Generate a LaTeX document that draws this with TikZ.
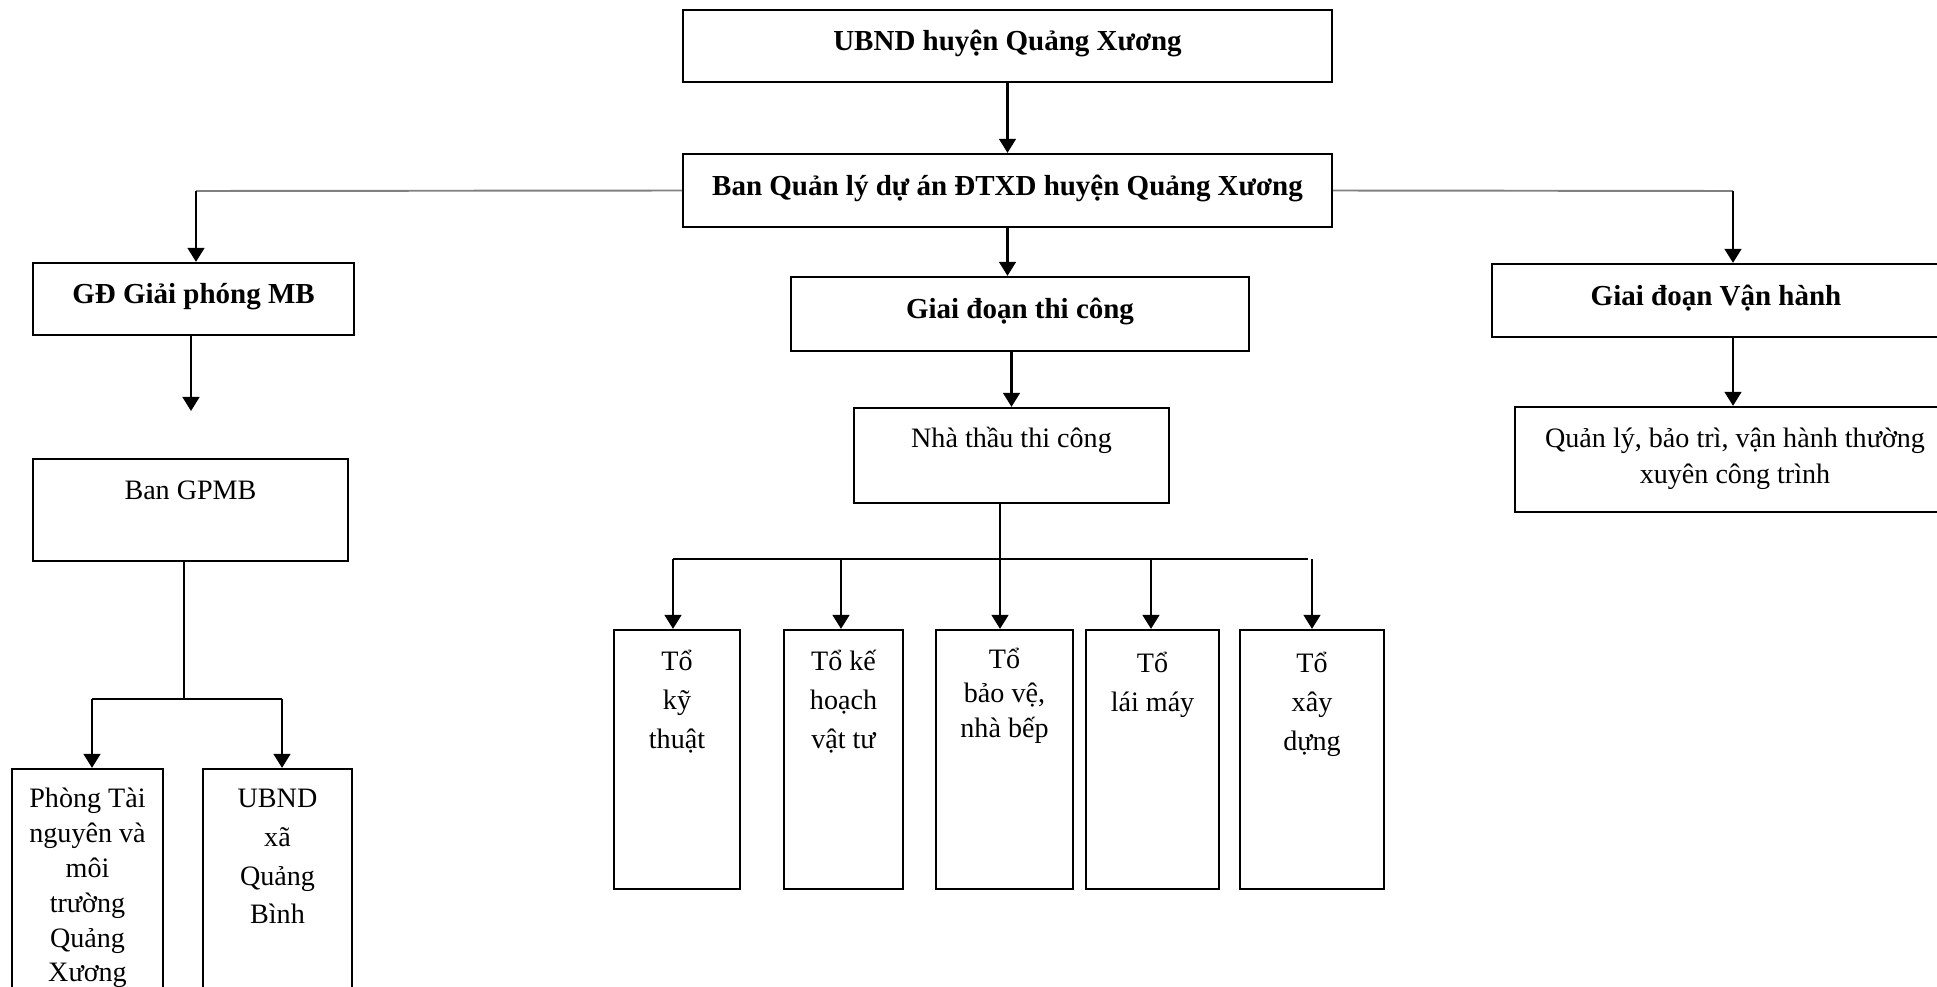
\documentclass[tikz,border=0pt]{standalone}
\usepackage{fontspec}
\setmainfont{Liberation Serif}
\usetikzlibrary{arrows.meta}

\begin{document}
\begin{tikzpicture}[x=0.02cm, y=-0.02cm,
  box/.style={draw, line width=1.3pt, inner sep=0pt},
  head/.style={font=\fontsize{16.5}{20}\selectfont\bfseries, text depth=6pt},
  txt/.style={anchor=north, inner sep=0pt, align=center, font=\fontsize{16}{22}\selectfont},
  line/.style={line width=1.5pt},
  arr/.style={line width=1.5pt, -{Triangle[width=9.5pt,length=8pt]}},
  greyline/.style={draw=gray, line width=1.1pt}]
\clip (0,0) rectangle (1937,987);

% top levels
\node[box, head, minimum width=12.98cm, minimum height=1.44cm] (ubnd) at (1007.5,46) {UBND huyện Quảng Xương};
\node[box, head, minimum width=12.98cm, minimum height=1.46cm] (banql) at (1007.5,190.5) {Ban Quản lý dự án ĐTXD huyện Quảng Xương};
\draw[arr] (ubnd.south) -- (banql.north);

% three stages
\node[box, head, minimum width=6.42cm, minimum height=1.44cm] (gd) at (193.5,299) {GĐ Giải phóng MB};
\node[box, head, minimum width=9.16cm, minimum height=1.48cm] (gtc) at (1020,314) {Giai đoạn thi công};
\node[box, head, minimum width=8.96cm, minimum height=1.46cm] (gvh) at (1716,300.5) {Giai đoạn Vận hành};

\coordinate (jl) at (196,191);
\coordinate (jr) at (1733,191);
\draw[greyline] (banql.west) -- (jl);
\draw[greyline] (banql.east) -- (jr);
\draw[arr] (jl) -- (jl |- gd.north);
\draw[arr] (jr) -- (jr |- gvh.north);
\draw[arr] (banql.south) -- (banql.south |- gtc.north);

% left branch
\coordinate (gdend) at (191,411);
\draw[arr] (gdend |- gd.south) -- (gdend);
\node[box, minimum width=6.3cm, minimum height=2.04cm] (bangpmb) at (190.5,510) {};
\node[txt] (bangpmb-t) at (190.5,481) {Ban GPMB};

\node[box, minimum width=3.02cm, minimum height=4.82cm] (phong) at (87.5,889.5) {};
\node[txt, font=\fontsize{16}{19.8}\selectfont] (phong-t) at (87.5,788) {Phòng Tài\\nguyên và\\môi\\trường\\Quảng\\Xương};
\node[box, minimum width=2.98cm, minimum height=4.82cm] (ubndxa) at (277.5,889.5) {};
\node[txt] (ubndxa-t) at (277.5,789) {UBND\\xã\\Quảng\\Bình};

\coordinate (sl) at (184,699);
\coordinate (sa) at (92,699);
\coordinate (sb) at (282,699);
\draw[line] (bangpmb.south -| sl) -- (sl);
\draw[line] (sa) -- (sb);
\draw[arr] (sa) -- (sa |- phong.north);
\draw[arr] (sb) -- (sb |- ubndxa.north);

% middle branch
\node[box, minimum width=6.3cm, minimum height=1.9cm] (nhathau) at (1011.5,455.5) {};
\node[txt] (nhathau-t) at (1011.5,427) {Nhà thầu thi công};
\draw[arr] (gtc.south -| nhathau.north) -- (nhathau.north);

\node[box, minimum width=2.52cm, minimum height=5.18cm] (tkt) at (677,759.5) {};
\node[box, minimum width=2.38cm, minimum height=5.18cm] (tkh) at (843.5,759.5) {};
\node[box, minimum width=2.74cm, minimum height=5.18cm] (tbv) at (1004.5,759.5) {};
\node[box, minimum width=2.66cm, minimum height=5.18cm] (tlm) at (1152.5,759.5) {};
\node[box, minimum width=2.88cm, minimum height=5.18cm] (txd) at (1312,759.5) {};
\node[txt] (tkt-t) at (677,650) {Tổ\\kỹ\\thuật};
\node[txt] (tkh-t) at (843.5,650) {Tổ kế\\hoạch\\vật tư};
\node[txt, font=\fontsize{16}{19.5}\selectfont] (tbv-t) at (1004.5,648) {Tổ\\bảo vệ,\\nhà bếp};
\node[txt] (tlm-t) at (1152.5,652) {Tổ\\lái máy};
\node[txt] (txd-t) at (1312,652) {Tổ\\xây\\dựng};

\coordinate (bus) at (1000,559);
\coordinate (busl) at (673,559);
\coordinate (busr) at (1308,559);
\draw[line] (nhathau.south -| bus) -- (bus);
\draw[line] (busl) -- (busr);
\foreach \n/\x in {tkt/673, tkh/841, tbv/1000, tlm/1151, txd/1312}{
  \coordinate (b\n) at (\x,559);
  \draw[arr] (b\n) -- (b\n |- \n.north);
}

% right branch
\node[box, minimum width=8.8cm, minimum height=2.1cm] (quanly) at (1735,459.5) {};
\node[txt, font=\fontsize{16}{20.5}\selectfont] (quanly-t) at (1735,428) {Quản lý, bảo trì, vận hành thường\\xuyên công trình};
\draw[arr] (jr |- gvh.south) -- (jr |- quanly.north);
\end{tikzpicture}
\end{document}
